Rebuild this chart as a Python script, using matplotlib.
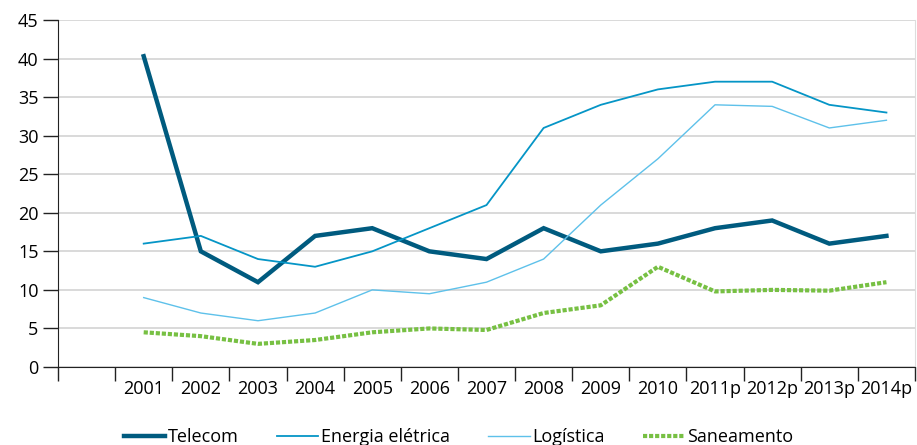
import matplotlib.pyplot as plt
import numpy as np

plt.rcParams['font.family'] = ['Open Sans', 'DejaVu Sans']

anos = ['', '2001', '2002', '2003', '2004', '2005', '2006', '2007', '2008',
        '2009', '2010', '2011p', '2012p', '2013p', '2014p']

telecom = [40.3, 15, 11, 17, 18, 15, 14, 18, 15, 16, 18, 19, 16, 17]
energia = [16, 17, 14, 13, 15, 18, 21, 31, 34, 36, 37, 37, 34, 33]
logistica = [9, 7, 6, 7, 10, 9.5, 11, 14, 21, 27, 34, 33.8, 31, 32]
saneamento = [4.5, 4, 3, 3.5, 4.5, 5, 4.8, 7, 8, 13, 9.8, 10, 9.9, 11]

fig = plt.figure(figsize=(9.17, 4.45), dpi=100)
ax = fig.add_axes([58 / 917, 1 - 367 / 445, 857 / 917, 347 / 445])

x = np.arange(1, len(anos))
ax.plot(x, telecom, color='#005b7f', lw=3.2, label='Telecom', solid_joinstyle='miter')
ax.plot(x, energia, color='#0595c6', lw=1.3, label='Energia elétrica')
ax.plot(x, logistica, color='#5ec1ea', lw=1.0, label='Logística')
ax.plot(x, saneamento, color='#77c043', lw=3.0, dashes=(1.0, 0.45),
        label='Saneamento')

ax.set_xlim(-0.5, len(anos) - 0.5)
ax.set_ylim(0, 45)
ax.set_yticks(np.arange(0, 46, 5))
ax.yaxis.grid(True, color='#d3d3d3', lw=1.2)
ax.set_axisbelow(True)

ax.set_xticks(np.arange(len(anos)))
ax.set_xticklabels(anos)
ax.set_xticks(np.arange(-0.5, len(anos)), minor=True)
ax.tick_params(axis='x', which='major', length=0, pad=9, labelsize=13)
ax.tick_params(axis='x', which='minor', length=10, width=1, color='#222222')
ax.tick_params(axis='y', length=11, width=1, color='#222222', labelsize=13, pad=3)

ax.spines['top'].set_visible(False)
ax.spines['right'].set_color('#dddddd')
ax.spines['left'].set_color('#222222')
ax.spines['bottom'].set_color('#222222')

fig.legend(loc='center', bbox_to_anchor=(0.5, 1 - 437 / 445), ncol=4,
           frameon=False, fontsize=13, handlelength=2.3, handletextpad=0.15,
           columnspacing=2.1)

fig.savefig('out.png', dpi=100)
